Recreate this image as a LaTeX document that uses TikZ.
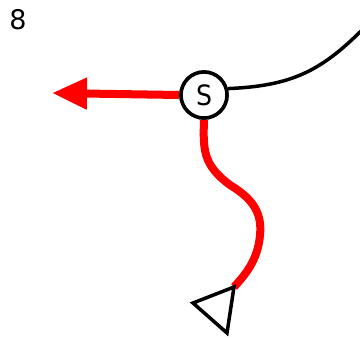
\documentclass[tikz,border=0pt]{standalone}
\usepackage{fontspec}
\setmainfont{DejaVu Sans}
\newfontfamily\condfont{DejaVu Sans Condensed}
\usetikzlibrary{arrows.meta}
\tikzset{
  redline/.style={draw=red, line width=8pt},
  blackline/.style={draw=black, line width=3.5pt},
  snode/.style={circle, draw=black, line width=3.5pt, fill=white, minimum size=46pt, inner sep=0pt, font=\condfont\fontsize{28}{28}\selectfont},
  label8/.style={font=\fontsize{27}{27}\selectfont, inner sep=0pt},
}
\begin{document}
\begin{tikzpicture}[x=1pt,y=-1pt]
\useasboundingbox (0,0) rectangle (360,338);
\coordinate (tri) at (234,287);
\coordinate (t2) at (193,303);
\coordinate (t3) at (227,333);
\coordinate (arrowtip) at (52,93);
\coordinate (bend1) at (230,185);
\coordinate (bend2) at (260,235);
\coordinate (blackend) at (362,30);
\node[snode] (S0) at (204,95) {};
\draw[redline] (S0.south) .. controls (203,150) and (203,165) .. (bend1)
  .. controls (255,200) and (262,215) .. (bend2)
  .. controls (258,260) and (245,275) .. (tri);
\draw[redline, -{Triangle[length=35pt,width=30pt]}] (S0.west) -- (arrowtip);
\draw[blackline] (S0.15) .. controls (290,86) and (320,72) .. (blackend);
\node[snode] (S) at (204,95) {S};
\draw[blackline, miter limit=10] (tri) -- (t2) -- (t3) -- cycle;
\node[label8, anchor=center] (eight) at (18,20) {8};
\end{tikzpicture}
\end{document}
